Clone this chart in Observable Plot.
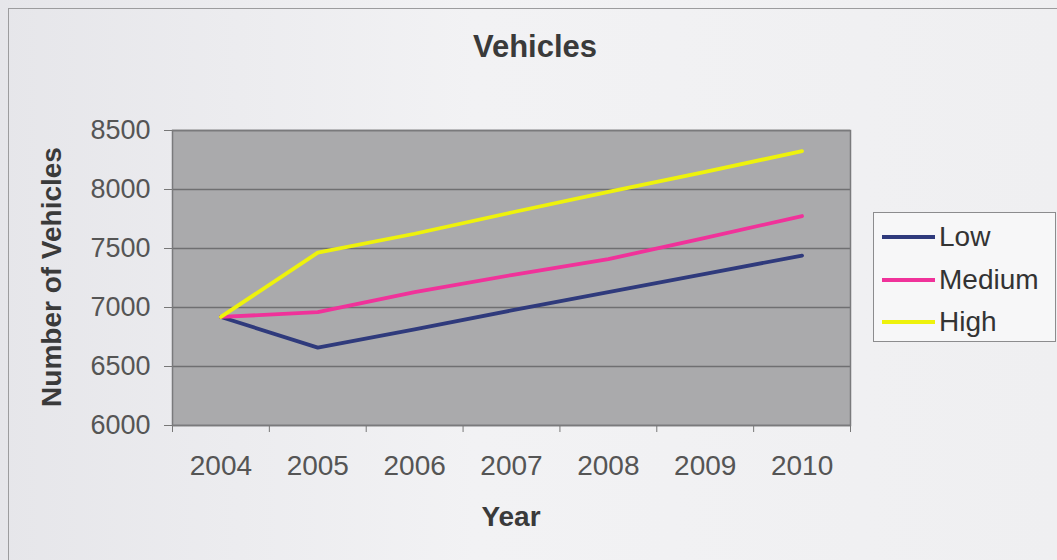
<!DOCTYPE html>
<html><head><meta charset="utf-8">
<script src="https://cdn.jsdelivr.net/npm/d3@7"></script>
<script src="https://cdn.jsdelivr.net/npm/@observablehq/plot@0.6"></script>
<style>
html,body{margin:0;padding:0;background:#eeeef0;}
#wrap{position:relative;width:1057px;height:560px;overflow:hidden;font-family:"Liberation Sans",Arial,sans-serif;
  background:linear-gradient(90deg,#e6e6ea 0%,#f2f2f4 45%,#efeff1 100%);}
#border{position:absolute;left:8px;top:8px;width:1080px;height:600px;border:1.5px solid #9c9c9e;box-sizing:border-box;}
#chart{position:absolute;left:0;top:0;}
.t{position:absolute;color:#3a3a3a;font-weight:bold;white-space:nowrap;}
#title{left:0;width:1070px;top:29px;text-align:center;font-size:31px;}
#ytitle{left:52px;top:277px;font-size:28px;transform:translate(-50%,-50%) rotate(-90deg);}
#xtitle{left:511px;top:517px;font-size:28px;transform:translate(-50%,-50%);}
#legend{position:absolute;left:873px;top:212px;width:183px;height:130px;border:1.5px solid #8c8c8e;background:#f7f7f8;box-sizing:border-box;}
.li{position:absolute;left:8px;height:40px;display:flex;align-items:center;font-size:28px;color:#333;}
.sw{width:53px;height:4px;margin-right:4px;}
</style></head>
<body>
<div id="wrap">
  <div id="border"></div>
  <div id="chart"></div>
  <div id="title" class="t">Vehicles</div>
  <div id="ytitle" class="t">Number of Vehicles</div>
  <div id="xtitle" class="t">Year</div>
  <div id="legend"></div>
</div>
<script>
const years = [2004, 2005, 2006, 2007, 2008, 2009, 2010];
const low = [6920, 6660, 6815, 6975, 7130, 7285, 7440];
const medium = [6920, 6960, 7130, 7275, 7410, 7590, 7775];
const high = [6920, 7465, 7625, 7805, 7980, 8150, 8325];
const seriesNames = ["Low", "Medium", "High"];
const seriesColors = ["#2f3a7c", "#f0329a", "#eef20c"];
const yTicks = [6000, 6500, 7000, 7500, 8000, 8500];

const seriesValues = [low, medium, high];
const rows = [];
seriesNames.forEach((name, i) => years.forEach((yr, j) => rows.push({series: name, year: yr, value: seriesValues[i][j]})));
const bounds = [years[0] - 0.5, ...years.map(y => y + 0.5)];

const chart = Plot.plot({
  width: 1057, height: 560,
  marginLeft: 172, marginRight: 207, marginTop: 130, marginBottom: 135,
  x: {domain: [bounds[0], bounds[bounds.length - 1]]},
  y: {domain: [yTicks[0], yTicks[yTicks.length - 1]]},
  color: {domain: seriesNames, range: seriesColors},
  style: {background: "transparent", fontFamily: "'Liberation Sans', Arial, sans-serif", color: "#555"},
  marks: [
    Plot.frame({fill: "#aaaaac"}),
    Plot.gridY(yTicks, {stroke: "#6f6f71", strokeOpacity: 1, strokeWidth: 1.5}),
    Plot.axisY(yTicks, {tickSize: 8, tickPadding: 14, label: null, fontSize: 27, fill: "#555", stroke: "#777", tickFormat: d => String(d)}),
    Plot.axisX(bounds, {tickSize: 7, tickFormat: () => "", label: null, stroke: "#777"}),
    Plot.axisX(years, {tickSize: 0, tickPadding: 30, label: null, fontSize: 28, fill: "#555", tickFormat: d => String(d)}),
    Plot.frame({stroke: "#7a7a7c", strokeWidth: 1.5}),
    Plot.line(rows, {x: "year", y: "value", z: "series", stroke: "series", strokeWidth: 3.8})
  ]
});
document.getElementById("chart").appendChild(chart);

const legend = document.getElementById("legend");
seriesNames.forEach((name, i) => {
  const item = document.createElement("div");
  item.className = "li";
  item.style.top = (4 + i * 42.5) + "px";
  const sw = document.createElement("div");
  sw.className = "sw";
  sw.style.background = seriesColors[i];
  const label = document.createElement("span");
  label.textContent = name;
  item.appendChild(sw); item.appendChild(label);
  legend.appendChild(item);
});
</script>
</body></html>
